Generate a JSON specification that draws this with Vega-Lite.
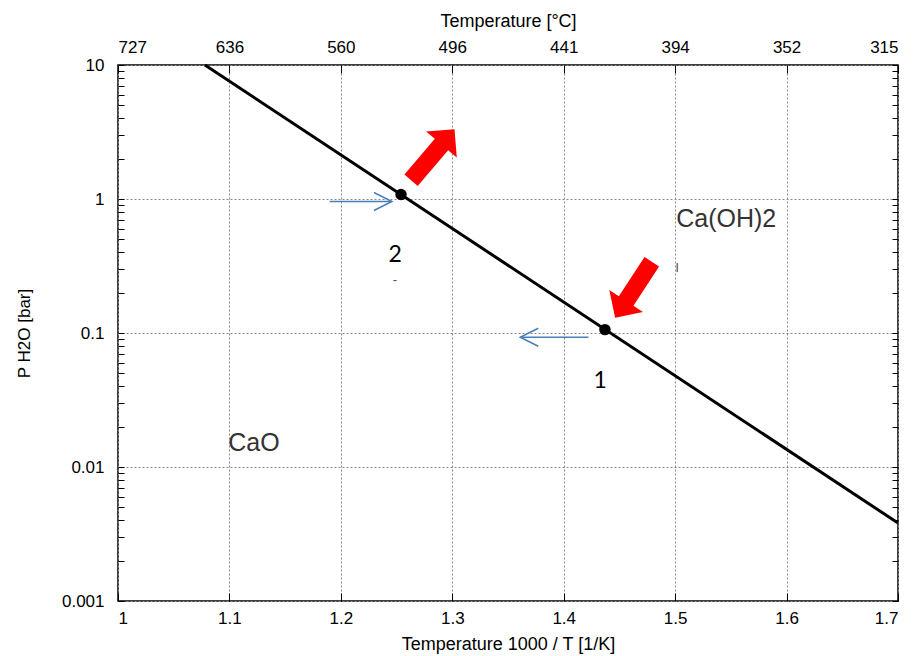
{
  "$schema": "https://vega.github.io/schema/vega-lite/v6.json",
  "autosize": {"type": "none"},
  "padding": {"left": 118, "top": 65, "right": 16, "bottom": 55},
  "width": 780,
  "height": 536,
  "background": "white",
  "config": {
    "view": {"stroke": "black", "strokeWidth": 1.5},
    "font": "Liberation Sans"
  },
  "datasets": {
    "line": [{"x": 1.078, "p": 10}, {"x": 1.7, "p": 0.00382}],
    "pts": [{"x": 1.254, "p": 1.08}, {"x": 1.437, "p": 0.106}],
    "shafts": [{"x": 1.19, "x2": 1.2458, "p": 0.958}, {"x": 1.361, "x2": 1.4222, "p": 0.0929}],
    "chevR": [{"x": 1.2458, "p": 0.958}],
    "chevL": [{"x": 1.361, "p": 0.0929}],
    "redUp": [{"x": 1.2825, "p": 2.14}],
    "redDown": [{"x": 1.4626, "p": 0.21}],
    "nums": [{"x": 1.2487, "p": 0.382, "t": "2"}, {"x": 1.4327, "p": 0.0438, "t": "1"}],
    "phases": [{"x": 1.5458, "p": 0.71, "t": "Ca(OH)2"}, {"x": 1.122, "p": 0.0151, "t": "CaO"}],
    "marks": [{"x": 1.2487, "p": 0.249, "t": "-"}, {"x": 1.5018, "p": 0.305, "t": "I"}]
  },
  "resolve": {"axis": {"x": "independent", "y": "independent"}},
  "layer": [
    {
      "data": {"name": "line"},
      "mark": {"type": "line", "color": "black", "strokeWidth": 3},
      "encoding": {
        "x": {
          "field": "x", "type": "quantitative",
          "scale": {"domain": [1, 1.7], "nice": false, "zero": false},
          "axis": {
            "orient": "bottom",
            "values": [1, 1.1, 1.2, 1.3, 1.4, 1.5, 1.6, 1.7],
            "format": "~g",
            "title": "Temperature 1000 / T [1/K]",
            "titleFont": "Liberation Sans", "titleFontSize": 18, "titleFontWeight": "normal", "titleColor": "black",
            "titlePadding": 9,
            "labelFont": "Liberation Sans", "labelFontSize": 17, "labelColor": "black",
            "labelPadding": 17,
            "tickSize": -8, "tickColor": "black", "tickWidth": 1,
            "domain": false,
            "grid": true, "gridDash": [2, 2], "gridColor": "#888", "gridWidth": 1
          }
        },
        "y": {
          "field": "p", "type": "quantitative",
          "scale": {"type": "log", "domain": [0.001, 10], "nice": false},
          "axis": {
            "orient": "left",
            "values": [0.001, 0.002, 0.003, 0.004, 0.005, 0.006, 0.007, 0.008, 0.009, 0.01, 0.02, 0.03, 0.04, 0.05, 0.06, 0.07, 0.08, 0.09, 0.1, 0.2, 0.3, 0.4, 0.5, 0.6, 0.7, 0.8, 0.9, 1, 2, 3, 4, 5, 6, 7, 8, 9, 10],
            "labelExpr": "indexof([0.001, 0.01, 0.1, 1, 10], datum.value) >= 0 ? format(datum.value, '~g') : ''",
            "title": "P H2O [bar]",
            "titleFont": "Liberation Sans", "titleFontSize": 17, "titleFontWeight": "normal", "titleColor": "black",
            "titlePadding": 28,
            "labelFont": "Liberation Sans", "labelFontSize": 17, "labelColor": "black",
            "labelPadding": 20,
            "tickSize": -6, "tickColor": "black", "tickWidth": 1,
            "domain": false,
            "grid": true, "gridDash": [2, 2], "gridColor": "#888", "gridWidth": 1,
            "gridOpacity": {"condition": {"test": "indexof([0.001, 0.01, 0.1, 1, 10], datum.value) >= 0", "value": 1}, "value": 0}
          }
        }
      }
    },
    {
      "data": {"name": "pts"},
      "mark": {"type": "point", "filled": true, "color": "black", "size": 130, "opacity": 1},
      "encoding": {
        "x": {
          "field": "x", "type": "quantitative",
          "scale": {"domain": [1, 1.7], "nice": false, "zero": false},
          "axis": {
            "orient": "top",
            "values": [1, 1.1, 1.2, 1.3, 1.4, 1.5, 1.6, 1.7],
            "labelExpr": "format(1000 / datum.value - 273.15, '.0f')",
            "title": "Temperature [°C]",
            "titleFont": "Liberation Sans", "titleFontSize": 18, "titleFontWeight": "normal", "titleColor": "black",
            "titlePadding": 8,
            "labelFont": "Liberation Sans", "labelFontSize": 17, "labelColor": "black",
            "labelPadding": 17,
            "tickSize": -8, "tickColor": "black", "tickWidth": 1,
            "domain": false, "grid": false
          }
        },
        "y": {
          "field": "p", "type": "quantitative",
          "scale": {"type": "log", "domain": [0.001, 10], "nice": false},
          "axis": {
            "orient": "right",
            "values": [0.001, 0.002, 0.003, 0.004, 0.005, 0.006, 0.007, 0.008, 0.009, 0.01, 0.02, 0.03, 0.04, 0.05, 0.06, 0.07, 0.08, 0.09, 0.1, 0.2, 0.3, 0.4, 0.5, 0.6, 0.7, 0.8, 0.9, 1, 2, 3, 4, 5, 6, 7, 8, 9, 10],
            "labels": false, "title": null,
            "tickSize": -6, "tickColor": "black", "tickWidth": 1,
            "domain": false, "grid": false
          }
        }
      }
    },
    {
      "data": {"name": "shafts"},
      "mark": {"type": "rule", "color": "#4a7ebb", "strokeWidth": 1.5},
      "encoding": {
        "x": {"field": "x", "type": "quantitative", "axis": null},
        "x2": {"field": "x2"},
        "y": {"field": "p", "type": "quantitative", "axis": null}
      }
    },
    {
      "data": {"name": "chevR"},
      "mark": {"type": "point", "shape": "M-1,-0.5L0,0L-1,0.5", "size": 1296, "filled": false, "color": "#4a7ebb", "strokeWidth": 1.5, "opacity": 1},
      "encoding": {
        "x": {"field": "x", "type": "quantitative", "axis": null},
        "y": {"field": "p", "type": "quantitative", "axis": null}
      }
    },
    {
      "data": {"name": "chevL"},
      "mark": {"type": "point", "shape": "M1,-0.5L0,0L1,0.5", "size": 1296, "filled": false, "color": "#4a7ebb", "strokeWidth": 1.5, "opacity": 1},
      "encoding": {
        "x": {"field": "x", "type": "quantitative", "axis": null},
        "y": {"field": "p", "type": "quantitative", "axis": null}
      }
    },
    {
      "data": {"name": "redUp"},
      "mark": {"type": "point", "shape": "M0,-1L0.6,-0.4L0.26,-0.4L0.26,1L-0.26,1L-0.26,-0.4L-0.6,-0.4Z", "size": 4489, "angle": 40.4, "filled": true, "color": "#ff0000", "opacity": 1},
      "encoding": {
        "x": {"field": "x", "type": "quantitative", "axis": null},
        "y": {"field": "p", "type": "quantitative", "axis": null}
      }
    },
    {
      "data": {"name": "redDown"},
      "mark": {"type": "point", "shape": "M0,-1L0.6,-0.4L0.26,-0.4L0.26,1L-0.26,1L-0.26,-0.4L-0.6,-0.4Z", "size": 4489, "angle": 213.2, "filled": true, "color": "#ff0000", "opacity": 1},
      "encoding": {
        "x": {"field": "x", "type": "quantitative", "axis": null},
        "y": {"field": "p", "type": "quantitative", "axis": null}
      }
    },
    {
      "data": {"name": "nums"},
      "mark": {"type": "text", "font": "Lato", "fontSize": 23, "color": "black", "align": "center", "baseline": "middle"},
      "encoding": {
        "x": {"field": "x", "type": "quantitative", "axis": null},
        "y": {"field": "p", "type": "quantitative", "axis": null},
        "text": {"field": "t"}
      }
    },
    {
      "data": {"name": "phases"},
      "mark": {"type": "text", "font": "Liberation Sans", "fontSize": 25, "color": "#333", "align": "center", "baseline": "middle"},
      "encoding": {
        "x": {"field": "x", "type": "quantitative", "axis": null},
        "y": {"field": "p", "type": "quantitative", "axis": null},
        "text": {"field": "t"}
      }
    },
    {
      "data": {"name": "marks"},
      "mark": {"type": "text", "font": "Liberation Sans", "fontSize": 12, "color": "#444", "align": "center", "baseline": "middle"},
      "encoding": {
        "x": {"field": "x", "type": "quantitative", "axis": null},
        "y": {"field": "p", "type": "quantitative", "axis": null},
        "text": {"field": "t"}
      }
    }
  ]
}
